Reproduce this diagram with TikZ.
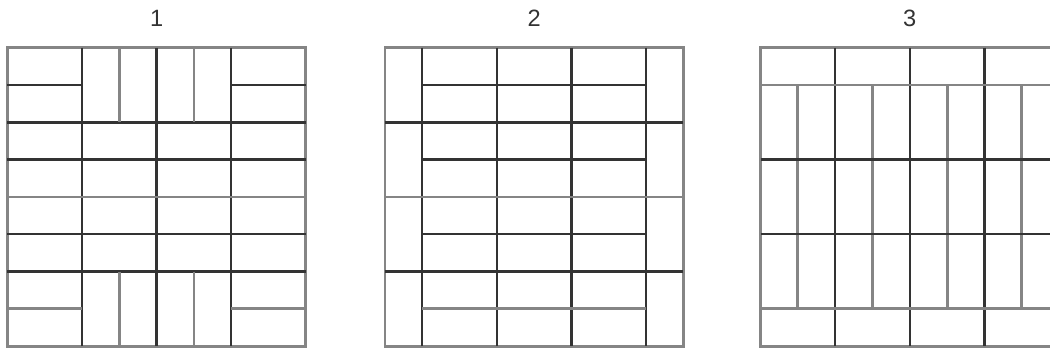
\documentclass[tikz,border=0pt]{standalone}
\usepackage{fontspec}
\setmainfont{Liberation Sans}
\usepackage{xcolor}
\usepackage{tikz}
\definecolor{ink}{HTML}{333333}
\definecolor{grout}{HTML}{858585}

\begin{document}
\begin{tikzpicture}[every node/.style={font=\fontsize{18}{21}\selectfont,text=ink},
    joint/.style={draw=ink,line width=1.8pt},
    soft/.style={draw=grout,line width=2.2pt},
    panel/.style={y=-1cm}]
  \clip (0,0) rectangle (28.15,9.44);
  % pattern 1
  \begin{scope}[shift={(0.2,8.16)},panel]
    \node (p1) at (4,-0.8) {1};
    \draw[soft] (0,0) rectangle (8,8);
    \foreach \x in {2,4,6} \draw[joint] (\x,0) -- (\x,8);
    \foreach \y in {2,3,5,6} \draw[joint] (0,\y) -- (8,\y);
    \draw[soft] (0,4) -- (8,4);
    \foreach \x in {3,5} \draw[soft] (\x,0) -- (\x,2) (\x,6) -- (\x,8);
    \draw[joint] (0,1) -- (2,1) (6,1) -- (8,1);
    \draw[soft] (0,7) -- (2,7) (6,7) -- (8,7);
  \end{scope}
  % pattern 2
  \begin{scope}[shift={(10.32,8.16)},panel]
    \node (p2) at (4,-0.8) {2};
    \draw[soft] (0,0) rectangle (8,8);
    \foreach \x in {1,3,5,7} \draw[joint] (\x,0) -- (\x,8);
    \foreach \y in {2,6} \draw[joint] (0,\y) -- (8,\y);
    \draw[soft] (0,4) -- (8,4);
    \foreach \y in {1,3,5} \draw[joint] (1,\y) -- (7,\y);
    \draw[soft] (1,7) -- (7,7);
  \end{scope}
  % pattern 3
  \begin{scope}[shift={(20.39,8.16)},panel]
    \node (p3) at (4,-0.8) {3};
    \draw[soft] (0,0) rectangle (8,8);
    \foreach \x in {2,4,6} \draw[joint] (\x,0) -- (\x,8);
    \foreach \x in {1,3,5,7} \draw[soft] (\x,1) -- (\x,7);
    \foreach \y in {1,7} \draw[soft] (0,\y) -- (8,\y);
    \foreach \y in {3,5} \draw[joint] (0,\y) -- (8,\y);
  \end{scope}
\end{tikzpicture}
\end{document}
